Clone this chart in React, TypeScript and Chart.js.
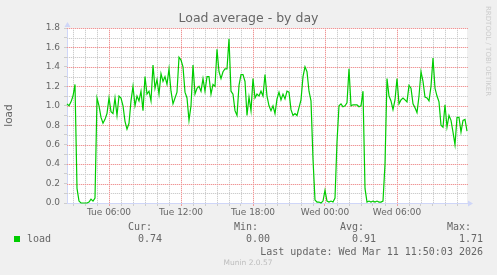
import { useEffect, useRef } from 'react';
import { Chart, registerables } from 'chart.js';

Chart.register(...registerables);

// Load values, one sample every 10 minutes starting Tue 02:30
const tueEarly = [
  1.02, 1.0, 1.04, 1.1, 1.22, 0.15, 0.02, 0.0, 0.0, 0.0,
  0.0, 0.01, 0.04, 0.02, 0.05, 1.08, 1.0, 0.88, 0.82, 0.86,
  0.92, 1.08, 0.94, 0.92, 1.08, 0.9, 1.1, 1.08, 1.0, 0.84,
  0.76, 0.82, 1.05, 1.2, 1.0, 1.1, 1.05, 1.15, 0.95, 1.3,
];
const tueMidday = [
  1.12, 1.15, 1.05, 1.42, 1.18, 1.27, 1.12, 1.33, 1.25, 1.3,
  1.22, 1.38, 1.15, 1.02, 1.08, 1.14, 1.5, 1.47, 1.4, 1.14,
  1.08, 0.85, 1.0, 1.42, 1.12, 1.18, 1.2, 1.15, 1.28, 1.15,
  1.3, 1.3, 1.12, 1.22, 1.2, 1.58, 1.35, 1.28, 1.35, 1.38,
];
const tueEvening = [
  1.38, 1.69, 1.15, 1.12, 0.95, 0.9, 1.21, 1.32, 1.32, 1.25,
  0.9, 1.09, 0.95, 1.28, 1.08, 1.12, 1.1, 1.15, 1.1, 1.32,
  1.1, 1.0, 0.95, 1.0, 0.92, 1.07, 1.14, 1.06, 1.12, 1.07,
  1.15, 1.14, 0.96, 0.9, 0.92, 0.9, 0.98, 1.06, 1.3, 1.4,
];
const wedNight = [
  1.35, 1.15, 1.05, 0.45, 0.03, 0.01, 0.01, 0.0, 0.02, 0.13,
  0.02, 0.01, 0.02, 0.01, 0.05, 0.63, 1.0, 1.02, 0.99, 1.0,
  1.03, 1.38, 1.0, 1.01, 1.01, 1.01, 0.99, 1.0, 1.15, 0.15,
  0.01, 0.02, 0.01, 0.02, 0.01, 0.02, 0.01, 0.01, 0.02, 0.4,
];
const wedMorning = [
  1.28, 1.1, 1.05, 0.96, 1.06, 1.28, 1.02, 1.06, 1.08, 1.06,
  1.04, 1.21, 1.18, 1.02, 0.98, 0.93, 1.1, 1.35, 1.25, 1.09,
  1.08, 1.05, 1.2, 1.49, 1.18, 1.1, 1.04, 0.8, 0.78, 1.01,
  0.78, 0.9, 0.85, 0.73, 0.6, 0.88, 0.88, 0.73, 0.85, 0.86,
  0.74,
];
const loadValues = [...tueEarly, ...tueMidday, ...tueEvening, ...wedNight, ...wedMorning];

const START_HOUR = 2.5; // Tue 02:30 (hours since Tue 00:00)
const STEP_HOURS = 1 / 6;
const END_HOUR = 35 + 50 / 60; // Wed 11:50

const hourTicks = Array.from({ length: 33 }, (_, i) => i + 3);
const majorTickHours = [6, 12, 18, 24, 30];
const majorTickLabels = ['Tue 06:00', 'Tue 12:00', 'Tue 18:00', 'Wed 00:00', 'Wed 06:00'];
const yTicks = Array.from({ length: 19 }, (_, i) => i / 10);

const statHeaders = ['Cur:', 'Min:', 'Avg:', 'Max:'];
const statValues = ['0.74', '0.00', '0.91', '1.71'];
const seriesName = 'load';
const lastUpdate = 'Last update: Wed Mar 11 11:50:03 2026';

const GRID_DOT = 'rgb(205,205,205)';
const GRID_BASE = 'rgb(242,242,242)';
const MGRID_DOT = 'rgb(238,150,150)';
const MGRID_BASE = 'rgb(251,222,222)';
const MGRID_TICK = 'rgb(238,160,160)';
const AXIS = '#CFD6F8';
const FONT = '#666666';
const LINE = '#00CC00';

const isMajorX = (v: number) => majorTickHours.includes(v);
const isMajorY = (v: number) => Math.round(v * 10) % 2 === 0;

const muninPlugin = {
  id: 'munin',
  beforeDraw(chart: any) {
    const { ctx, chartArea: a } = chart;
    ctx.save();
    ctx.fillStyle = '#f0f0f0';
    ctx.fillRect(0, 0, chart.width, chart.height);
    ctx.fillStyle = '#ffffff';
    ctx.fillRect(a.left, a.top, a.right - a.left, a.bottom - a.top);
    ctx.restore();
  },
  beforeDatasetsDraw(chart: any) {
    const { ctx, chartArea: a, scales } = chart;
    ctx.save();
    ctx.lineWidth = 1;
    const path = (major: boolean) => {
      ctx.beginPath();
      hourTicks.forEach((h) => {
        if (isMajorX(h) !== major) return;
        const px = Math.round(scales.x.getPixelForValue(h)) + 0.5;
        ctx.moveTo(px, a.bottom);
        ctx.lineTo(px, a.top);
      });
      yTicks.forEach((v) => {
        if (v === 0 || isMajorY(v) !== major) return;
        const py = Math.round(scales.y.getPixelForValue(v)) + 0.5;
        ctx.moveTo(a.left, py);
        ctx.lineTo(a.right + 1, py);
      });
    };
    [false, true].forEach((major) => {
      ctx.setLineDash([]);
      ctx.strokeStyle = major ? MGRID_BASE : GRID_BASE;
      path(major);
      ctx.stroke();
      ctx.setLineDash([1, 1]);
      ctx.strokeStyle = major ? MGRID_DOT : GRID_DOT;
      path(major);
      ctx.stroke();
    });
    ctx.restore();
  },
  afterDraw(chart: any) {
    const { ctx, chartArea: a } = chart;
    ctx.save();
    // arrows
    ctx.fillStyle = AXIS;
    ctx.strokeStyle = AXIS;
    ctx.lineWidth = 1;
    ctx.beginPath();
    ctx.moveTo(a.right, a.bottom + 0.5);
    ctx.lineTo(a.right + 2, a.bottom + 0.5);
    ctx.stroke();
    ctx.beginPath();
    ctx.moveTo(a.right + 1, a.bottom - 2.5);
    ctx.lineTo(a.right + 6, a.bottom + 0.5);
    ctx.lineTo(a.right + 1, a.bottom + 3.5);
    ctx.closePath();
    ctx.fill();
    ctx.beginPath();
    ctx.moveTo(a.left - 2.5, a.top - 1);
    ctx.lineTo(a.left + 0.5, a.top - 6);
    ctx.lineTo(a.left + 3.5, a.top - 1);
    ctx.closePath();
    ctx.fill();

    // title
    ctx.fillStyle = FONT;
    ctx.textBaseline = 'middle';
    ctx.textAlign = 'center';
    ctx.font = '12.5px "DejaVu Sans"';
    ctx.fillText('Load average - by day', 248.5, 19);

    // legend
    ctx.font = '10px "DejaVu Sans Mono"';
    ctx.textAlign = 'left';
    const headerX = [128, 234, 340, 447];
    const valueX = [138, 246, 352, 459];
    statHeaders.forEach((h, i) => ctx.fillText(h, headerX[i], 227));
    statValues.forEach((v, i) => ctx.fillText(v, valueX[i], 239.5));
    ctx.fillText(seriesName, 27, 239.5);
    ctx.fillStyle = LINE;
    ctx.fillRect(14, 236, 6, 6);
    ctx.fillStyle = FONT;
    ctx.textAlign = 'right';
    ctx.fillText(lastUpdate, 483, 252);

    // watermark
    ctx.textAlign = 'center';
    ctx.fillStyle = '#bdbdbd';
    ctx.font = '7.5px "DejaVu Sans"';
    ctx.fillText('Munin 2.0.57', 248, 263.5);

    // rrdtool vertical
    ctx.translate(487.5, 6);
    ctx.rotate(Math.PI / 2);
    ctx.textAlign = 'left';
    ctx.fillStyle = '#cccccc';
    ctx.font = '7px "DejaVu Sans"';
    ctx.fillText('RRDTOOL / TOBI OETIKER', 0, 0);
    ctx.restore();
  },
};

export default function App() {
  const ref = useRef<HTMLCanvasElement | null>(null);
  useEffect(() => {
    if (!ref.current) return;
    const data = loadValues.map((v, i) => ({ x: START_HOUR + i * STEP_HOURS, y: v }));
    const chart = new Chart(ref.current, {
      type: 'line',
      data: {
        datasets: [
          {
            label: seriesName,
            data,
            borderColor: LINE,
            borderWidth: 1.2,
            pointRadius: 0,
            tension: 0,
            fill: false,
            clip: 4,
          } as any,
        ],
      },
      options: {
        animation: false,
        responsive: false,
        devicePixelRatio: 1,
        layout: { padding: { left: 0, right: 30, top: 28, bottom: 52 }, autoPadding: false } as any,
        plugins: {
          legend: { display: false },
          title: { display: false },
          tooltip: { enabled: false },
        },
        scales: {
          x: {
            type: 'linear',
            min: START_HOUR,
            max: END_HOUR,
            afterBuildTicks: (s: any) => {
              s.ticks = hourTicks.map((v) => ({ value: v }));
            },
            afterFit: (s: any) => {
              s.height = 20;
            },
            ticks: {
              autoSkip: false,
              maxRotation: 0,
              padding: 1.5,
              color: FONT,
              font: { family: '"DejaVu Sans"', size: 9 },
              callback: (v: any) => {
                const i = majorTickHours.indexOf(Number(v));
                return i >= 0 ? majorTickLabels[i] : '';
              },
            },
            grid: {
              drawOnChartArea: false,
              tickColor: (c: any) => (c.tick && isMajorX(c.tick.value) ? MGRID_TICK : GRID_DOT),
              tickLength: 3,
              lineWidth: 1,
            },
            border: { display: true, color: AXIS, width: 1 },
          },
          y: {
            type: 'linear',
            min: 0,
            max: 1.8,
            afterBuildTicks: (s: any) => {
              s.ticks = yTicks.map((v) => ({ value: v }));
            },
            afterFit: (s: any) => {
              s.width = 67;
            },
            title: {
              display: true,
              text: 'load',
              color: FONT,
              font: { family: '"DejaVu Sans"', size: 10.5 },
              padding: { top: 3, bottom: 0 },
            },
            ticks: {
              autoSkip: false,
              padding: 4,
              color: FONT,
              font: { family: '"DejaVu Sans"', size: 9 },
              callback: (v: any) => (isMajorY(Number(v)) ? Number(v).toFixed(1) : ''),
            },
            grid: {
              drawOnChartArea: false,
              tickColor: GRID_DOT,
              tickLength: 3,
              lineWidth: 1,
            },
            border: { display: true, color: AXIS, width: 1 },
          },
        },
      },
      plugins: [muninPlugin],
    });
    return () => chart.destroy();
  }, []);

  return (
    <div style={{ position: 'fixed', left: 0, top: 0, width: 497, height: 275, background: '#f0f0f0' }}>
      <canvas ref={ref} width={497} height={275} style={{ display: 'block', width: 497, height: 275 }} />
    </div>
  );
}
